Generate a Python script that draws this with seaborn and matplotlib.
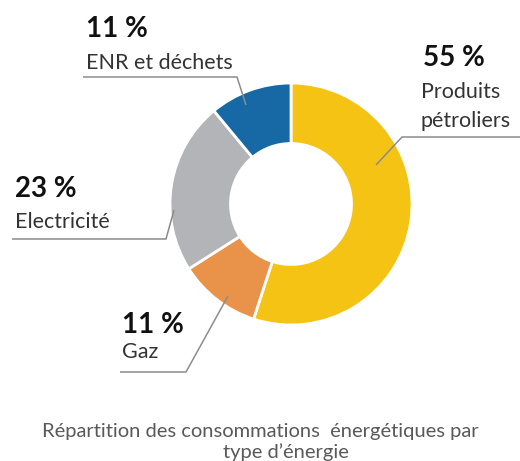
import matplotlib
matplotlib.use("Agg")
import matplotlib.pyplot as plt
import seaborn as sns

sns.set_theme(style="white")
plt.rcParams["font.family"] = ["Lato", "DejaVu Sans"]

# Energy consumption shares (%), clockwise from the top
categories = ["Produits pétroliers", "Gaz", "Electricité", "ENR et déchets"]
values = [55, 11, 23, 11]
pct_labels = ["55 %", "11 %", "23 %", "11 %"]
colors = ["#F5C313", "#E8924A", "#B2B4B7", "#1669A4"]

W, H = 520, 461
fig = plt.figure(figsize=(W / 100, H / 100), dpi=100)
ax = fig.add_axes([0, 0, 1, 1])
ax.set_xlim(0, W)
ax.set_ylim(0, H)
ax.set_aspect("equal")
ax.axis("off")

cx, cy, R = 291, H - 204, 121
ax.pie(values, colors=colors, startangle=90, counterclock=False,
       center=(cx, cy), radius=R,
       wedgeprops=dict(width=R * 0.5, edgecolor="white", linewidth=2))
ax.set_xlim(0, W)
ax.set_ylim(0, H)

line_kw = dict(color="#8C8C8C", lw=1.1, solid_capstyle="butt")
pct_kw = dict(fontsize=20, fontweight="bold", color="#111111", va="baseline")
name_kw = dict(fontsize=15.5, color="#333333", va="baseline")

def y(v):
    return H - v

# Produits pétroliers
ax.text(423, y(66), pct_labels[0], **pct_kw)
ax.text(421, y(98), "Produits", **name_kw)
ax.text(421, y(127), "pétroliers", **name_kw)
ax.plot([520, 402, 376], [y(137), y(137), y(165)], **line_kw)

# Gaz
ax.text(122, y(333), pct_labels[1], **pct_kw)
ax.text(122, y(358), "Gaz", **name_kw)
ax.plot([120, 186, 228], [y(372), y(372), y(296)], **line_kw)

# Electricité
ax.text(15, y(197), pct_labels[2], **pct_kw)
ax.text(15, y(228), "Electricité", **name_kw)
ax.plot([12, 166, 174], [y(239), y(239), y(210)], **line_kw)

# ENR et déchets
ax.text(86, y(37), pct_labels[3], **pct_kw)
ax.text(86, y(69), "ENR et déchets", **name_kw)
ax.plot([83, 237, 246], [y(77), y(77), y(105)], **line_kw)

# Caption
ax.text(42, y(437), "Répartition des consommations  énergétiques par",
        fontsize=14.5, color="#595959", ha="left", va="baseline")
ax.text(286, y(458), "type d’énergie",
        fontsize=14.5, color="#595959", ha="center", va="baseline")

fig.savefig("out.png", dpi=100)
